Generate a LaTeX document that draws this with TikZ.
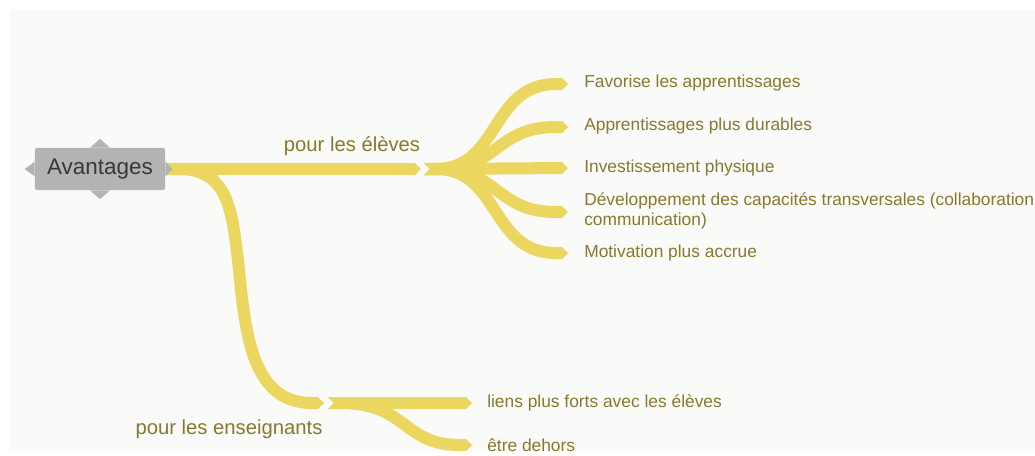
\documentclass[tikz,border=0pt]{standalone}
\usepackage{fontspec}
\setmainfont{Liberation Sans}
\usepackage{xcolor}
\usepackage{tikz}
\usetikzlibrary{arrows.meta}
\definecolor{branche}{HTML}{EBD75F}
\definecolor{olive}{HTML}{857A2E}
\definecolor{fond}{HTML}{FAFAF8}
\definecolor{gris}{HTML}{B3B3B3}
\tikzset{
  branche/.style={draw=branche, line width=0.3cm, {Triangle Cap[reversed]}-{Triangle Cap}},
  feuille/.style={anchor=west, inner sep=0pt, text=olive, font=\fontsize{12.35pt}{14.2pt}\selectfont, align=left},
  titre/.style={inner sep=0pt, text=olive, font=\fontsize{14.4pt}{17pt}\selectfont}
}

\begin{document}
\begin{tikzpicture}[x=0.025cm, y=-0.025cm]
\useasboundingbox (0,0) rectangle (1035,455);
\fill[white] (0,0) rectangle (1035,455);
\fill[fond] (10,10) rectangle (1035,451);

  \node[fill=gris, rounded corners=1pt, minimum width=3.25cm, minimum height=1.05cm, inner sep=0pt] (avant) at (100,169) {};
  \fill[gris] ([xshift=-0.25cm]avant.north) -- ([yshift=0.22cm]avant.north) -- ([xshift=0.25cm]avant.north) -- cycle;
  \fill[gris] ([xshift=-0.25cm]avant.south) -- ([yshift=-0.22cm]avant.south) -- ([xshift=0.25cm]avant.south) -- cycle;
  \fill[gris] ([yshift=-0.18cm]avant.west) -- ([xshift=-0.25cm]avant.west) -- ([yshift=0.18cm]avant.west) -- cycle;
  \fill[gris] ([yshift=-0.18cm]avant.east) -- ([xshift=0.25cm]avant.east) -- ([yshift=0.18cm]avant.east) -- cycle;
  \node[text=black!78, font=\fontsize{16pt}{19pt}\selectfont] at (avant) {Avantages};

\coordinate (depart) at (167,169);
\coordinate (eleves) at (424,169);
\coordinate (fineleves) at (421,169);
\coordinate (coude) at (238,260);
\coordinate (finens) at (324,403);
\coordinate (ens) at (328,403);
  \draw[branche] (depart) .. controls +(63,0) and +(-6,-45) .. (coude) .. controls +(7,70) and +(-74,0) .. (finens);
  \draw[branche] (depart) -- (fineleves);
  \node[titre] (peleves) at (352,146) {pour les élèves};
  \node[titre] (pens) at (229,429) {pour les enseignants};

% pour les eleves
\coordinate (f1) at (568,84);
\coordinate (f2) at (568,127);
\coordinate (f3) at (568,168);
\coordinate (f4) at (568,212);
\coordinate (f5) at (568,253);
  \draw[branche] (eleves) .. controls +(76,0) and +(-78,0) .. (f1);
  \draw[branche] (eleves) .. controls +(76,0) and +(-73,0) .. (f2);
  \draw[branche] (eleves) -- (f3);
  \draw[branche] (eleves) .. controls +(76,0) and +(-73,0) .. (f4);
  \draw[branche] (eleves) .. controls +(76,0) and +(-78,0) .. (f5);
  \node[feuille] (t1) at (584,83) {Favorise les apprentissages};
  \node[feuille] (t2) at (584,126) {Apprentissages plus durables};
  \node[feuille] (t3) at (584,168) {Investissement physique};
  \node[feuille] (t4) at (584,211) {Développement des capacités transversales (collaboration,\\communication)};
  \node[feuille] (t5) at (584,253) {Motivation plus accrue};

% pour les enseignants
\coordinate (g1) at (472,403);
\coordinate (g2) at (472,445);
  \draw[branche] (ens) -- (g1);
  \draw[branche] (ens) .. controls +(80,0) and +(-70,0) .. (g2);
  \node[feuille] (u1) at (487,403) {liens plus forts avec les élèves};
  \node[feuille] (u2) at (487,445) {être dehors};
\end{tikzpicture}
\end{document}
